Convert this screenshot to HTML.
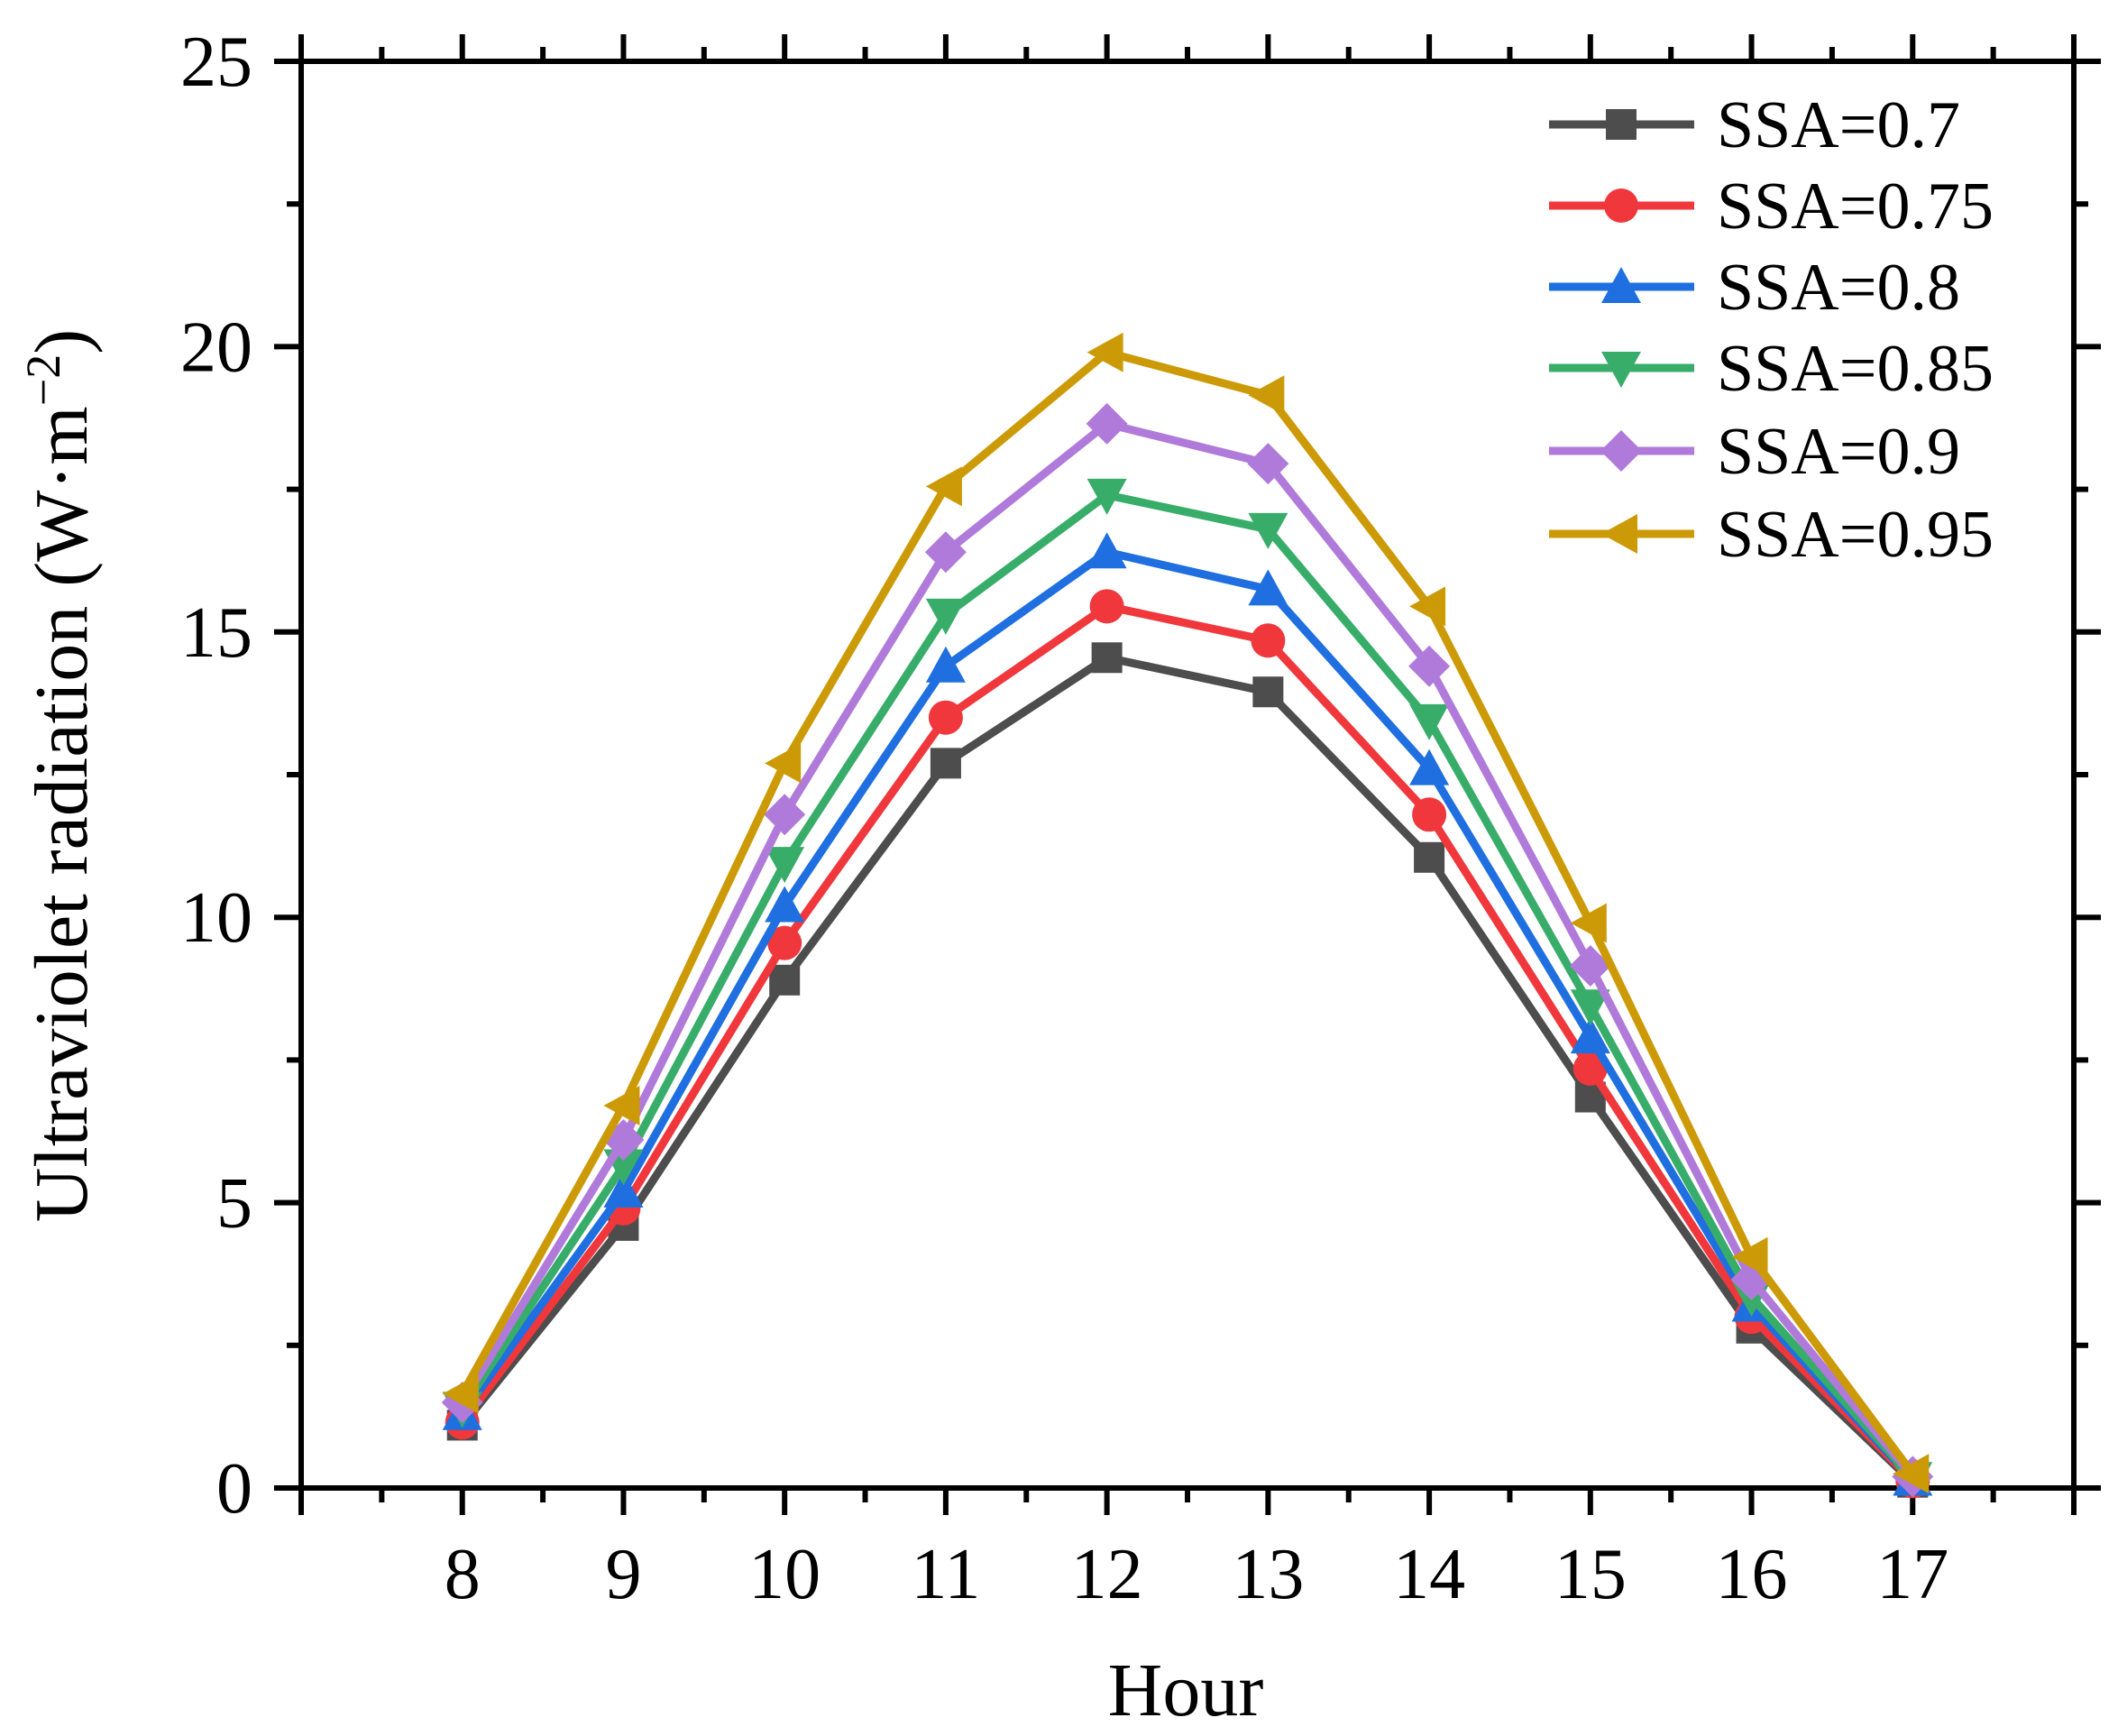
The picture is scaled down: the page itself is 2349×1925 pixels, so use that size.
<!DOCTYPE html>
<html><head><meta charset="utf-8"><style>
html,body{margin:0;padding:0;background:#fff}
svg text{font-family:"Liberation Serif",serif;fill:#000}
</style></head><body>
<svg id="chart" width="2349" height="1920" viewBox="0 0 2349 1920" xmlns="http://www.w3.org/2000/svg">
</svg>
<script>
const hours=[8,9,10,11,12,13,14,15,16,17];
const ssaLabels=["SSA=0.7","SSA=0.75","SSA=0.8","SSA=0.85","SSA=0.9","SSA=0.95"];
const s070=[1.1,4.6,8.9,12.7,14.55,13.95,11.05,6.85,2.8,0.1];
const s075=[1.15,4.9,9.55,13.5,15.45,14.85,11.8,7.35,3.0,0.12];
const s080=[1.3,5.2,10.2,14.4,16.4,15.75,12.6,7.9,3.2,0.15];
const s085=[1.4,5.65,10.95,15.3,17.4,16.8,13.45,8.45,3.35,0.17];
const s090=[1.5,6.1,11.8,16.4,18.65,17.95,14.4,9.15,3.65,0.2];
const s095=[1.65,6.7,12.7,17.55,19.9,19.15,15.45,9.9,4.05,0.25];
const yTicks=[0,5,10,15,20,25];
const xTickLabels=["8","9","10","11","12","13","14","15","16","17"];

const series=[s070,s075,s080,s085,s090,s095];
const colors=["#4d4d4d","#f0373c","#1f6fe0","#38ad6a","#b07ada","#cc9a06"];
const markers=["square","circle","up","down","diamond","left"];
const L=334,R=2300,T=68,B=1650;
const X=v=>L+(v-7)/(18-7)*(R-L);
const Y=v=>B-v/25*(B-T);
const NS="http://www.w3.org/2000/svg";
const svg=document.getElementById('chart');
function mk(t,a,p){const e=document.createElementNS(NS,t);for(const k in a)e.setAttribute(k,a[k]);(p||svg).appendChild(e);return e;}

const frame=mk('rect',{x:L,y:T,width:R-L,height:B-T,fill:'none',stroke:'#000','stroke-width':6});



for(let h=7;h<=18;h+=0.5){
  const major=Number.isInteger(h);const len=major?30:16;
  const x=X(h);
  const t1=mk('line',{x1:x,y1:B,x2:x,y2:B+len,stroke:'#000','stroke-width':6});
  
  
  const t2=mk('line',{x1:x,y1:T,x2:x,y2:T-len,stroke:'#000','stroke-width':6});
  
  
}
hours.forEach((h,i)=>{
  const t=mk('text',{x:X(h),y:1772,'text-anchor':'middle','font-size':80});
  t.textContent=xTickLabels[i];
  
  
});
for(let v=0;v<=25;v+=2.5){
  const major=v%5===0;const len=major?30:16;const y=Y(v);
  const t1=mk('line',{x1:L,y1:y,x2:L-len,y2:y,stroke:'#000','stroke-width':6});
  
  
  const t2=mk('line',{x1:R,y1:y,x2:R+len,y2:y,stroke:'#000','stroke-width':6});
  
  
}
yTicks.forEach(v=>{
  const t=mk('text',{x:280,y:Y(v)+27,'text-anchor':'end','font-size':80});
  t.textContent=String(v);
  
  
});
const xt=mk('text',{x:1315,y:1902,'text-anchor':'middle','font-size':84});
xt.textContent='Hour';


const yt=mk('text',{x:0,y:0,'text-anchor':'middle','font-size':84,transform:'translate(96,860) rotate(-90)'});
yt.innerHTML='Ultraviolet radiation (W·m<tspan baseline-shift="super" font-size="54">−2</tspan>)';



function marker(type,x,y,c,g){
  const s=19;let e;
  if(type==='square')e=mk('rect',{x:x-s+2,y:y-s+2,width:2*s-4,height:2*s-4,fill:c},g);
  else if(type==='circle')e=mk('circle',{cx:x,cy:y,r:s,fill:c},g);
  else{
    let p;
    if(type==='up')p=[[x,y-s-3],[x-s-3,y+s-1],[x+s+3,y+s-1]];
    if(type==='down')p=[[x,y+s+3],[x-s-3,y-s+1],[x+s+3,y-s+1]];
    if(type==='diamond')p=[[x,y-s-4],[x+s+4,y],[x,y+s+4],[x-s-4,y]];
    if(type==='left')p=[[x-s-3,y],[x+s-1,y-s-3],[x+s-1,y+s+3]];
    e=mk('polygon',{points:p.map(q=>q.join(',')).join(' '),fill:c},g);
  }
  return e;
}
series.forEach((d,si)=>{
  const g=mk('g',{});
  
  
  const pl=mk('polyline',{points:d.map((v,i)=>X(hours[i])+','+Y(v)).join(' '),fill:'none',stroke:colors[si],'stroke-width':9,'stroke-linejoin':'round'},g);
  
  
  d.forEach((v,i)=>{
    const m=marker(markers[si],X(hours[i]),Y(v),colors[si],g);
    
    
  });
});
const lg=mk('g',{});


const ly=[138,228,318,408,500,592];
ssaLabels.forEach((lab,i)=>{
  const e=mk('g',{},lg);
  
  
  mk('line',{x1:1718,y1:ly[i],x2:1879,y2:ly[i],stroke:colors[i],'stroke-width':9},e);
  marker(markers[i],1798,ly[i],colors[i],e);
  const t=mk('text',{x:1904,y:ly[i]+25,'font-size':74},e);
  t.textContent=lab;
});
</script>
</body></html>
